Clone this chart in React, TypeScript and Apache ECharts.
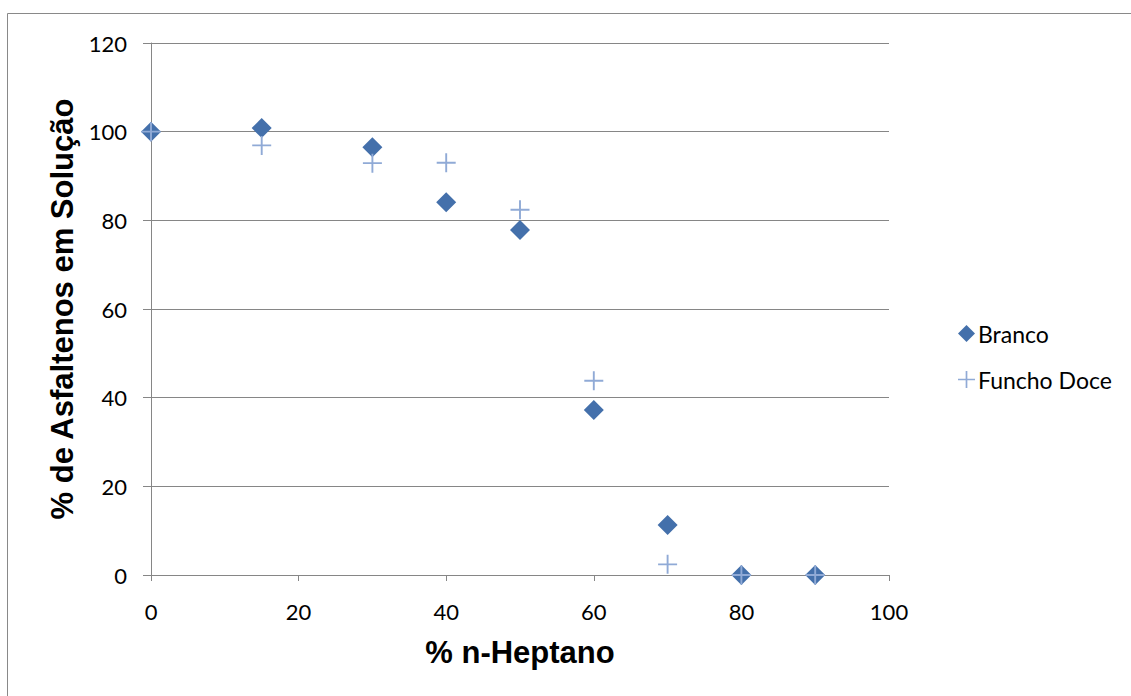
import React, { useEffect, useRef } from "react";
import * as echarts from "echarts";

// % n-heptane added (x) vs % asphaltenes remaining in solution (y)
const heptano = [0, 15, 30, 40, 50, 60, 70, 80, 90];
const branco = [100, 100.8, 96.5, 84.1, 77.8, 37.2, 11.3, 0, 0];
const funchoDoce = [100, 96.9, 92.9, 93.0, 82.4, 43.8, 2.4, 0, 0];

const xTicks = [0, 20, 40, 60, 80, 100];
const yTicks = [0, 20, 40, 60, 80, 100, 120];

const PLUS = "path://M0,9L20,9L20,11L0,11Z M9,0L11,0L11,20L9,20Z";
const AXIS_GREY = "#868686";
const LABEL_FONT = "Lato, 'Open Sans', sans-serif";
const TITLE_FONT = "'Liberation Sans', Arial, sans-serif";

export default function App() {
  const ref = useRef<HTMLDivElement>(null);

  useEffect(() => {
    if (!ref.current) return;
    const chart = echarts.init(ref.current, null, { renderer: "svg" });
    chart.setOption({
      animation: false,
      backgroundColor: "#ffffff",
      graphic: [
        {
          type: "rect",
          shape: { x: 7.5, y: 13.5, width: 1300, height: 900 },
          style: { fill: "none", stroke: "#898989", lineWidth: 1 },
          silent: true,
        },
      ],
      grid: { left: 151, top: 43, right: 242, bottom: 121 },
      legend: {
        orient: "vertical",
        left: 953,
        top: 317,
        itemWidth: 17,
        itemHeight: 17,
        itemGap: 23,
        textStyle: { fontFamily: LABEL_FONT, fontSize: 23, color: "#000", padding: [0, 0, 0, -2] },
        data: [
          { name: "Branco", icon: "diamond" },
          { name: "Funcho Doce", icon: PLUS },
        ],
      },
      xAxis: {
        type: "value",
        min: 0,
        max: 100,
        interval: 20,
        name: "% n-Heptano",
        nameLocation: "middle",
        nameGap: 62,
        nameTextStyle: {
          fontFamily: TITLE_FONT,
          fontWeight: "bold",
          fontSize: 31,
          color: "#000",
        },
        axisLine: { show: true, lineStyle: { color: AXIS_GREY, width: 1 } },
        axisTick: { show: true, inside: false, length: 6, lineStyle: { color: AXIS_GREY } },
        axisLabel: {
          margin: 25,
          fontFamily: LABEL_FONT,
          fontSize: 22,
          color: "#000",
          formatter: (v: number) => (xTicks.includes(v) ? String(v) : ""),
        },
        splitLine: { show: false },
      },
      yAxis: {
        type: "value",
        min: 0,
        max: 120,
        interval: 20,
        name: "% de Asfaltenos em Solução",
        nameLocation: "middle",
        nameGap: 73,
        nameTextStyle: {
          fontFamily: TITLE_FONT,
          fontWeight: "bold",
          fontSize: 31,
          color: "#000",
        },
        axisLine: { show: true, lineStyle: { color: AXIS_GREY, width: 1 } },
        axisTick: { show: true, inside: false, length: 8, lineStyle: { color: AXIS_GREY } },
        axisLabel: {
          margin: 24,
          fontFamily: LABEL_FONT,
          fontSize: 22,
          color: "#000",
          formatter: (v: number) => (yTicks.includes(v) ? String(v) : ""),
        },
        splitLine: { show: true, lineStyle: { color: AXIS_GREY, width: 1 } },
      },
      series: [
        {
          name: "Branco",
          type: "scatter",
          symbol: "diamond",
          symbolSize: 20,
          itemStyle: { color: "#4470AB", opacity: 1 },
          data: heptano.map((x, i) => [x, branco[i]]),
          z: 2,
        },
        {
          name: "Funcho Doce",
          type: "scatter",
          symbol: PLUS,
          symbolSize: 19,
          itemStyle: { color: "#90AAD6", opacity: 1 },
          data: heptano.map((x, i) => [x, funchoDoce[i]]),
          z: 3,
        },
      ],
    });
    return () => chart.dispose();
  }, []);

  return (
    <div
      ref={ref}
      style={{ position: "absolute", left: 0, top: 0, width: 1131, height: 696 }}
    />
  );
}
